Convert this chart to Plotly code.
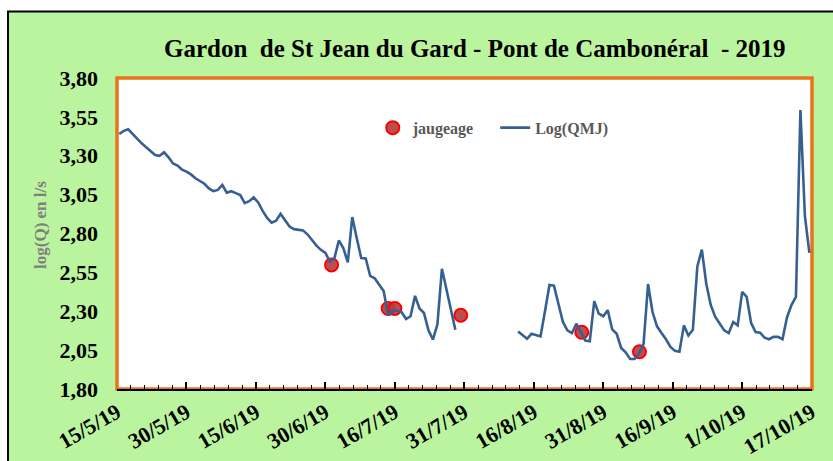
"""Gardon de St Jean du Gard - log(QMJ) et jaugeages 2019."""
import pandas as pd
import plotly.graph_objects as go

# daily log(QMJ) from 15/5/19 (None = missing days)
qmj_start = "2019-05-15 12:00"
log_qmj = [
    3.44, 3.46, 3.47, 3.44, 3.405, 3.38, 3.355, 3.33, 3.305, 3.30,
    3.322, 3.29, 3.25, 3.237, 3.211, 3.198, 3.18, 3.155, 3.135, 3.12,
    3.09, 3.072, 3.08, 3.112, 3.062, 3.072, 3.06, 3.047, 2.995, 3.008,
    3.032, 3.0, 2.945, 2.90, 2.87, 2.882, 2.926, 2.883, 2.845, 2.828,
    2.826, 2.82, 2.795, 2.76, 2.722, 2.695, 2.675, 2.62, 2.64, 2.755,
    2.707, 2.614, 2.906, 2.77, 2.642, 2.640, 2.527, 2.512, 2.473, 2.43,
    2.275, 2.30, 2.305, 2.295, 2.25, 2.268, 2.399, 2.318, 2.289, 2.177,
    2.118, 2.216, 2.573, 2.44, 2.31, 2.181,
    None, None, None, None, None, None, None, None, None, None, None, None, None,
    2.17, 2.145, 2.123, 2.155, 2.148, 2.138, 2.30, 2.469, 2.464, 2.35,
    2.231, 2.177, 2.159, 2.220, 2.17, 2.112, 2.107, 2.365, 2.285, 2.268,
    2.307, 2.183, 2.155, 2.064, 2.036, 1.993, 1.993, 2.03, 2.09, 2.475,
    2.295, 2.203, 2.16, 2.12, 2.07, 2.045, 2.04, 2.209, 2.144, 2.181,
    2.588, 2.696, 2.475, 2.339, 2.263, 2.22, 2.177, 2.159, 2.231, 2.209,
    2.425, 2.393, 2.224, 2.166, 2.162, 2.13, 2.12, 2.135, 2.135, 2.12,
    2.26, 2.34, 2.393, 3.594, 2.912, 2.675,
]

# jaugeages (gaugings)
jaug_dates = [
    "2019-07-01 21:00", "2019-07-14 12:00", "2019-07-16 00:00",
    "2019-07-30 17:00", "2019-08-26 17:00", "2019-09-08 14:00",
]
jaug_values = [2.598, 2.318, 2.318, 2.274, 2.165, 2.040]

qmj_dates = pd.date_range(qmj_start, periods=len(log_qmj), freq="D")

DAY_MS = 86400000
SERIF = "Liberation Serif, Times New Roman, serif"

fig = go.Figure()
fig.add_trace(go.Scatter(
    x=jaug_dates,
    y=jaug_values,
    name="jaugeage\u00a0\u00a0\u00a0\u00a0",  # pad so Log(QMJ) sits further right
    mode="markers",
    marker=dict(size=13, color="rgba(180,60,60,0.9)",
                line=dict(color="#FF0000", width=2)),
))
fig.add_trace(go.Scatter(
    x=qmj_dates,
    y=log_qmj,
    name="Log(QMJ)",
    mode="lines",
    line=dict(color="#376092", width=2.6),
))

fig.update_layout(
    width=833,
    height=461,
    margin=dict(l=117, r=21, t=78, b=72),
    paper_bgcolor="white",
    plot_bgcolor="rgba(0,0,0,0)",
    separators=",.",
    font=dict(family=SERIF, color="black"),
    title=dict(
        text="Gardon\u00a0 de St Jean du Gard - Pont de Cambonéral\u00a0 - 2019",
        x=0.57, xanchor="center", y=0.895, yanchor="middle",
        font=dict(family=SERIF, size=25, color="black", weight="bold"),
    ),
    showlegend=True,
    legend=dict(
        orientation="h",
        x=0.368, xanchor="left", y=0.84, yanchor="middle",
        bgcolor="rgba(0,0,0,0)",
        font=dict(family=SERIF, size=16, color="#595959", weight="bold"),
    ),
    xaxis=dict(
        type="date",
        range=["2019-05-15", "2019-10-17 02:00"],
        tick0="2019-05-15",
        dtick=15.5 * DAY_MS,
        tickformat="%-d/%-m/%y",
        tickangle=-30,
        ticks="inside",
        ticklen=7,
        tickwidth=1.5,
        tickcolor="black",
        minor=dict(ticks="inside", ticklen=4, tickwidth=1.2, tickcolor="black",
                   dtick=3.1 * DAY_MS, tick0="2019-05-15"),
        showline=True,
        linecolor="black",
        linewidth=2,
        showgrid=False,
        zeroline=False,
        automargin=False,
        tickfont=dict(family=SERIF, size=22, color="black", weight="bold"),
    ),
    yaxis=dict(
        range=[1.80, 3.80],
        tick0=1.80,
        dtick=0.25,
        tickformat=".2f",
        ticks="",
        showline=False,
        showgrid=False,
        zeroline=False,
        automargin=False,
        ticklabelstandoff=18,
        tickfont=dict(family=SERIF, size=22, color="black", weight="bold"),
    ),
)

# chart area (green, black frame) and plot area (white, orange frame)
fig.add_shape(type="rect", xref="paper", yref="paper", layer="below",
              x0=-0.1568, x1=1.1, y0=-0.3, y1=1.2138,
              fillcolor="#BBF49E", line=dict(color="black", width=2))
fig.add_shape(type="rect", xref="paper", yref="paper", layer="below",
              x0=0, x1=1, y0=0, y1=1,
              fillcolor="white", line=dict(color="#E8731A", width=3.5))

fig.add_annotation(
    text="log(Q) en l/s", xref="paper", yref="paper",
    x=-0.111, y=0.527, xanchor="center", yanchor="middle",
    textangle=-90, showarrow=False,
    font=dict(family=SERIF, size=17, color="#7F7F7F", weight="bold"),
)

# page body has an 8px default margin; drop it so the figure sits at 0,0
fig.write_html("out.html", config={"displayModeBar": False},
               post_script="document.body.style.margin='0';")
